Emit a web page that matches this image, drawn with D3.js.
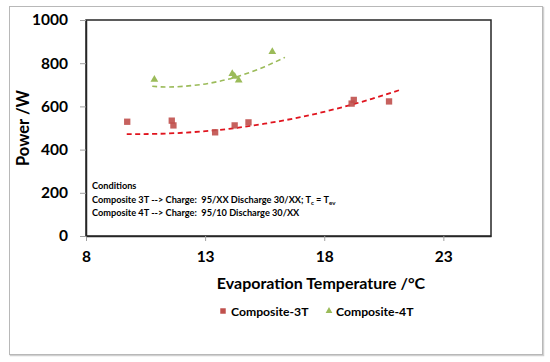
<!DOCTYPE html>
<html><head><meta charset="utf-8">
<script src="https://cdn.jsdelivr.net/npm/d3@7"></script>
<style>body{margin:0;background:#fff}svg{display:block}text{font-family:Lato,"Open Sans",sans-serif;font-weight:bold}</style>
</head><body><svg id="c" width="550" height="362"></svg>
<script>
// ---- data ----
const xTicks = [8, 13, 18, 23];
const yTicks = [0, 200, 400, 600, 800, 1000];
const comp3T_T = [9.73, 11.6, 11.67, 13.42, 14.24, 14.82, 19.15, 19.24, 20.72];
const comp3T_P = [529, 534, 512, 480, 512, 526, 613, 630, 623];
const comp4T_T = [10.87, 14.14, 14.24, 14.41, 15.82];
const comp4T_P = [725, 751, 738, 721, 853];
// trend lines
const trend3T_T = [9.71, 11, 12.5, 14, 15.5, 17, 18.5, 20, 21.25];
const trend3T_P = [472, 473, 481, 496, 520, 550, 589, 635, 679];
const trend4T_T = [10.78, 11.5, 12.5, 13.5, 14.5, 15.5, 16.35];
const trend4T_P = [693, 690, 697, 714, 743, 784, 827];
const seriesNames = ["Composite-3T", "Composite-4T"];
const xTitle = "Evaporation Temperature /°C";
const yTitle = "Power /W";

const svg = d3.select("#c");
const L = 86, R = 491, T = 20, B = 236;
const x = d3.scaleLinear().domain([8, 25]).range([L, R]);
const y = d3.scaleLinear().domain([0, 1000]).range([B, T]);
const red = "#c0504d", green = "#9bbb59";

// outer frame
svg.append("rect").attr("x", 10.5).attr("y", 7.5).attr("width", 533).attr("height", 348)
  .attr("fill", "none").attr("stroke", "#d0d0d0").attr("stroke-width", 1.5);
svg.append("rect").attr("x", 9.5).attr("y", 6.5).attr("width", 533).attr("height", 348)
  .attr("fill", "#fff").attr("stroke", "#b8b8b8").attr("stroke-width", 1);

// plot area
svg.append("rect").attr("x", L).attr("y", T).attr("width", R - L).attr("height", B - T)
  .attr("fill", "none").attr("stroke", "#262626").attr("stroke-width", 1.5);

// axes
const xa = svg.append("g").attr("transform", `translate(0,${B})`)
  .call(d3.axisBottom(x).tickValues(xTicks).tickFormat(d3.format("d")).tickSize(5).tickPadding(8).tickSizeOuter(0));
const ya = svg.append("g").attr("transform", `translate(${L},0)`)
  .call(d3.axisLeft(y).tickValues(yTicks).tickFormat(d3.format("d")).tickSize(6).tickPadding(12).tickSizeOuter(0));
[xa, ya].forEach(a => {
  a.select(".domain").attr("stroke", "#262626").attr("stroke-width", 1.5);
  a.selectAll(".tick line").attr("stroke", "#a0a0a0");
  a.selectAll(".tick text").attr("fill", "#000").style("font-size", "15.5px")
   .style("font-family", "Lato,sans-serif").style("font-weight", "bold");
});
xa.selectAll(".tick text").attr("dy", "0.85em");

// axis titles
svg.append("text").attr("x", 321).attr("y", 289).attr("text-anchor", "middle")
  .style("font-size", "16px").text(xTitle);
svg.append("text").attr("transform", "translate(29,128) rotate(-90)").attr("text-anchor", "middle")
  .style("font-size", "16.5px").text(yTitle);

// trend lines
const line = d3.line().x(d => x(d[0])).y(d => y(d[1])).curve(d3.curveNatural);
svg.append("path").datum(d3.zip(trend4T_T, trend4T_P)).attr("d", line)
  .attr("fill", "none").attr("stroke", green).attr("stroke-width", 1.6).attr("stroke-dasharray", "5,3.5");
svg.append("path").datum(d3.zip(trend3T_T, trend3T_P)).attr("d", line)
  .attr("fill", "none").attr("stroke", "#e0141e").attr("stroke-width", 1.8).attr("stroke-dasharray", "5,3.5");

// markers
const sq = d3.symbol().type(d3.symbolSquare).size(40);
const tri = d3.symbol().type(d3.symbolTriangle).size(26);
svg.append("g").selectAll("path").data(d3.zip(comp3T_T, comp3T_P)).join("path")
  .attr("d", sq).attr("transform", d => `translate(${x(d[0])},${y(d[1])})`).attr("fill", red).attr("opacity", 0.9);
svg.append("g").selectAll("path").data(d3.zip(comp4T_T, comp4T_P)).join("path")
  .attr("d", tri).attr("transform", d => `translate(${x(d[0])},${y(d[1])})`).attr("fill", green);

// annotation
const ann = svg.append("g").style("font-size", "9.2px");
ann.append("text").attr("x", 92).attr("y", 189).text("Conditions");
const t2 = ann.append("text").attr("x", 92).attr("y", 202.5).attr("xml:space", "preserve");
t2.append("tspan").text("Composite 3T --> Charge:  95/XX Discharge 30/XX; T");
t2.append("tspan").attr("baseline-shift", "-25%").style("font-size", "6.2px").text("c");
t2.append("tspan").text(" = T");
t2.append("tspan").attr("baseline-shift", "-25%").style("font-size", "6.2px").text("ev");
ann.append("text").attr("x", 92).attr("y", 215.5).attr("xml:space", "preserve")
  .text("Composite 4T --> Charge:  95/10 Discharge 30/XX");

// legend
const lg = svg.append("g").style("font-size", "12.2px");
lg.append("path").attr("d", d3.symbol().type(d3.symbolSquare).size(30)).attr("transform", "translate(223,311)").attr("fill", red);
lg.append("text").attr("x", 231).attr("y", 315.5).text(seriesNames[0]);
lg.append("path").attr("d", d3.symbol().type(d3.symbolTriangle).size(20)).attr("transform", "translate(329,311)").attr("fill", green);
lg.append("text").attr("x", 336).attr("y", 315.5).text(seriesNames[1]);
</script></body></html>
